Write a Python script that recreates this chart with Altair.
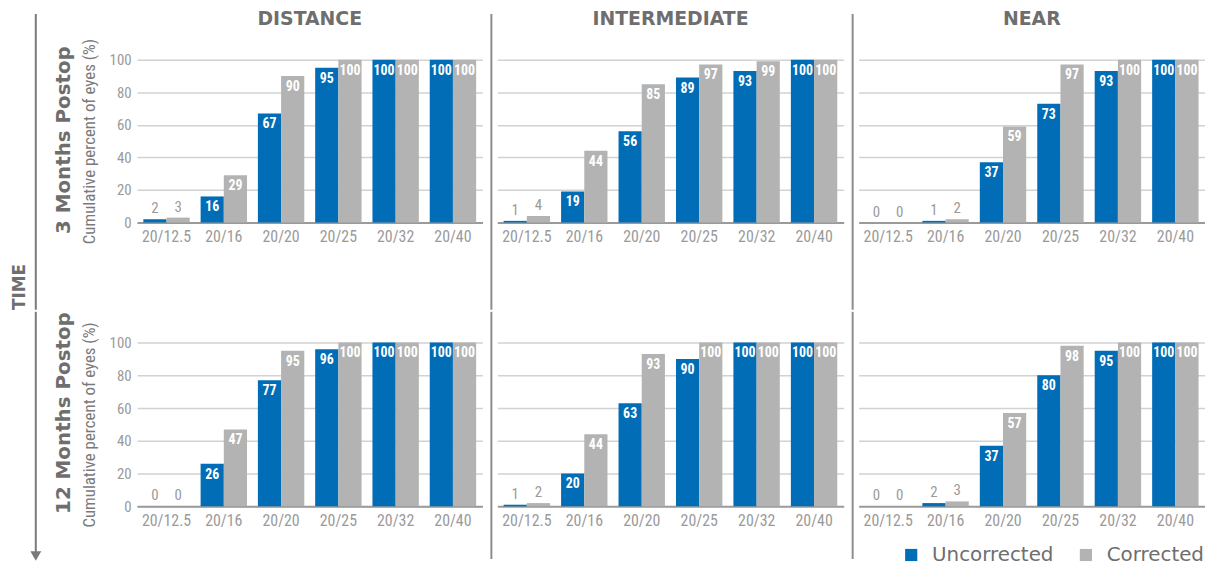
import altair as alt
import pandas as pd

categories = ["20/12.5", "20/16", "20/20", "20/25", "20/32", "20/40"]
series = ["Uncorrected", "Corrected"]
distances = ["DISTANCE", "INTERMEDIATE", "NEAR"]
timepoints = ["3 Months Postop", "12 Months Postop"]

m3_distance_unc = [2, 16, 67, 95, 100, 100]
m3_distance_cor = [3, 29, 90, 100, 100, 100]
m3_inter_unc = [1, 19, 56, 89, 93, 100]
m3_inter_cor = [4, 44, 85, 97, 99, 100]
m3_near_unc = [0, 1, 37, 73, 93, 100]
m3_near_cor = [0, 2, 59, 97, 100, 100]
m12_distance_unc = [0, 26, 77, 96, 100, 100]
m12_distance_cor = [0, 47, 95, 100, 100, 100]
m12_inter_unc = [1, 20, 63, 90, 100, 100]
m12_inter_cor = [2, 44, 93, 100, 100, 100]
m12_near_unc = [0, 2, 37, 80, 95, 100]
m12_near_cor = [0, 3, 57, 98, 100, 100]

grid_data = [
    [(m3_distance_unc, m3_distance_cor), (m3_inter_unc, m3_inter_cor), (m3_near_unc, m3_near_cor)],
    [(m12_distance_unc, m12_distance_cor), (m12_inter_unc, m12_inter_cor), (m12_near_unc, m12_near_cor)],
]

COND = "Roboto Condensed, Noto Sans Condensed, DejaVu Sans Condensed, Liberation Sans Narrow, Liberation Sans, Arial, sans-serif"
TFONT = "DejaVu Sans, sans-serif"
BLUE = "#006db6"
GREY = "#b3b3b3"
DARK = "#6e6e6e"
LIGHT = "#9a9a9a"

widths = [348, 349, 349]
heights = [164, 165]
one = pd.DataFrame({"k": [0]})


def make_df(unc, cor):
    rows = []
    for i, c in enumerate(categories):
        rows.append({"acuity": c, "corr": series[0], "value": unc[i]})
        rows.append({"acuity": c, "corr": series[1], "value": cor[i]})
    return pd.DataFrame(rows)


def vrule(x, y1, y2, color, sw):
    return alt.Chart(one).mark_rule(color=color, strokeWidth=sw).encode(
        x=alt.value(x), y=alt.value(y1), y2=alt.value(y2)
    )


def vtext(txt, x, y, size, weight, color, opacity=1.0, angle=270, baseline="middle"):
    return alt.Chart(pd.DataFrame({"t": [txt]})).mark_text(
        angle=angle, font=TFONT, fontSize=size, fontWeight=weight, color=color,
        opacity=opacity, align="center", baseline=baseline
    ).encode(text="t:N", x=alt.value(x), y=alt.value(y))


def panel(ri, ci):
    unc, cor = grid_data[ri][ci]
    df = make_df(unc, cor)
    w, h = widths[ci], heights[ri]
    x = alt.X("acuity:N", sort=categories,
              scale=alt.Scale(paddingInner=0.19, paddingOuter=0.11),
              axis=alt.Axis(title=None, labelAngle=0, ticks=False, domain=True,
                            domainColor=LIGHT, domainWidth=2, labelPadding=6,
                            labelFont=COND, labelFontSize=16, labelColor=LIGHT,
                            grid=False))
    if ci == 0:
        yaxis = alt.Axis(values=[0, 20, 40, 60, 80, 100], ticks=False, domain=False,
                         grid=True, gridColor="#d2d2d2", gridWidth=1.5,
                         labelFont=COND, labelFontSize=15, labelColor=LIGHT,
                         labelPadding=6, title="Cumulative percent of eyes (%)",
                         titleFont=COND, titleFontSize=17, titleFontWeight="normal",
                         titleColor="#7a7a7a", titlePadding=11)
    else:
        yaxis = alt.Axis(values=[20, 40, 60, 80, 100], ticks=False, domain=False,
                         labels=False, grid=True, gridColor="#d2d2d2", gridWidth=1.5,
                         title=None)
    y = alt.Y("value:Q", scale=alt.Scale(domain=[0, 100], nice=False), axis=yaxis)
    xo = alt.XOffset("corr:N", sort=series, scale=alt.Scale(paddingInner=0, paddingOuter=0))
    base = alt.Chart(df)
    bars = base.mark_bar().encode(
        x=x, y=y, xOffset=xo,
        color=alt.Color("corr:N", sort=series,
                        scale=alt.Scale(domain=series, range=[BLUE, GREY]),
                        legend=alt.Legend(title=None, orient="none", direction="horizontal",
                                          legendX=770, legendY=489, symbolType="square",
                                          symbolSize=150, symbolStrokeWidth=0,
                                          labelFont=TFONT, labelFontSize=20,
                                          labelColor=DARK, labelOffset=11,
                                          columnPadding=22, padding=0)),
    )
    inside = base.transform_filter("datum.value >= 10").mark_text(
        baseline="top", dy=4, color="white", font=COND, fontSize=14, fontWeight="bold"
    ).encode(x=x, y=y, xOffset=xo, text="value:Q")
    above = base.transform_filter("datum.value < 10").mark_text(
        baseline="bottom", dy=-3, color=LIGHT, font=COND, fontSize=15
    ).encode(x=x, y=y, xOffset=xo, text="value:Q")
    layers = [bars, inside, above]
    if ri == 0:
        top, bot = -46, 252
        layers.append(vtext(distances[ci], w / 2, -35, 19, "bold", DARK,
                            angle=0, baseline="alphabetic"))
    else:
        top, bot = -31, 218
    if ci > 0:
        layers.append(vrule(-6, top, bot, "#8c8c8c", 2))
    else:
        if ri == 0:
            layers.append(vrule(-102, top, bot, "#7a7a7a", 2))
            layers.append(vtext("TIME", -118, 229, 17, "bold", DARK))
            layers.append(vtext(timepoints[0], -74, 81, 20, "bold", DARK))
        else:
            layers.append(vrule(-102, top, 212, "#7a7a7a", 2))
            layers.append(alt.Chart(one).mark_point(
                shape="triangle-down", filled=True, size=120, color="#7a7a7a", opacity=1
            ).encode(x=alt.value(-102), y=alt.value(215)))
            layers.append(vtext("TIME", -118, 60, 17, "bold", DARK, opacity=0))
            layers.append(vtext(timepoints[1], -74, 71, 20, "bold", DARK))
    return alt.layer(*layers).properties(width=w, height=h)


rows = [alt.hconcat(*[panel(ri, ci) for ci in range(3)], spacing=8) for ri in range(2)]
chart = alt.vconcat(*rows, spacing=0).properties(
    padding={"left": 2, "top": 0, "right": 0, "bottom": 0}
).configure_view(stroke=None)

chart.save("out.html", embed_options={"renderer": "svg", "actions": False})
